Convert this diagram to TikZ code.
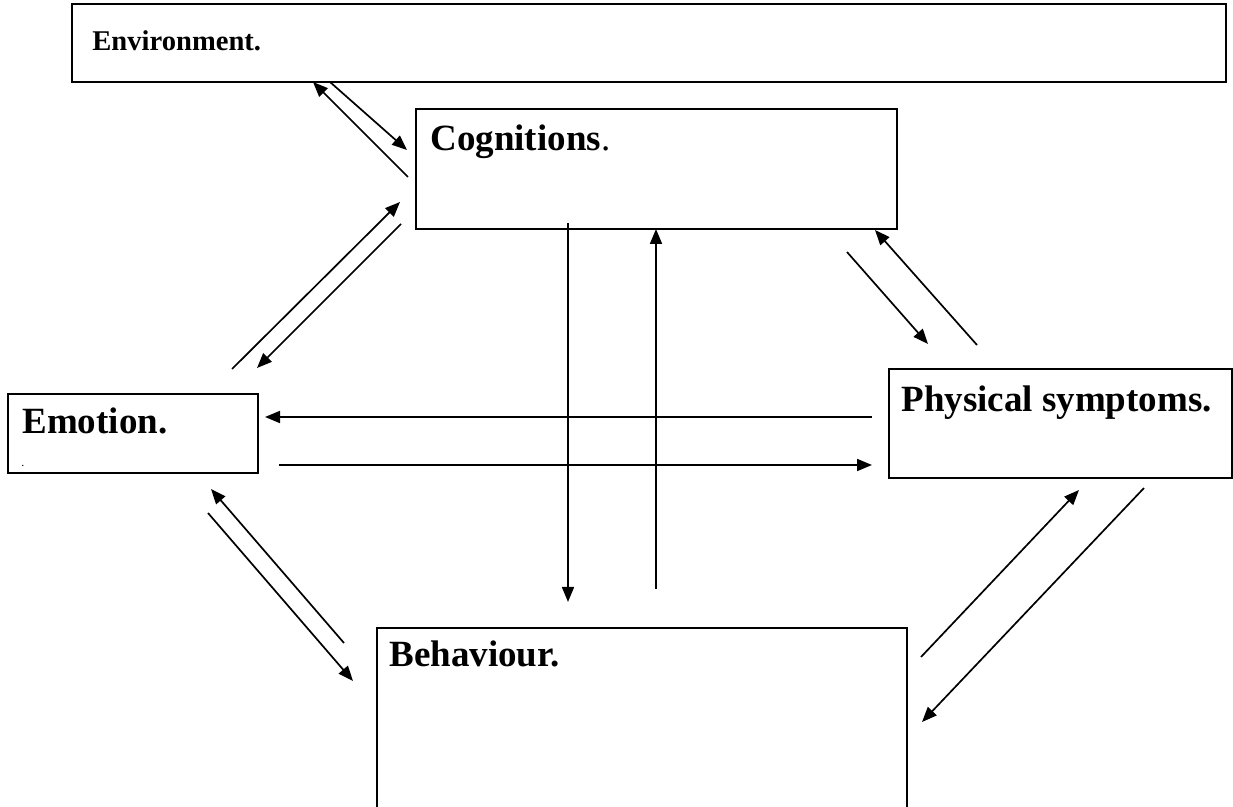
\documentclass[tikz,border=0pt]{standalone}
\usepackage{fontspec}
\setmainfont{Liberation Serif}
\usetikzlibrary{arrows.meta, positioning}

\begin{document}
\begin{tikzpicture}[x=0.5pt, y=-0.5pt]
    \tikzstyle{box} = [rectangle, draw, line width=0.9pt, anchor=north west, inner sep=0pt]
    \tikzstyle{head} = [anchor=base west, inner sep=0pt, font=\fontsize{18.5}{22}\selectfont\bfseries]
    \tikzstyle{flow} = [-{Triangle[length=7.5pt, width=6pt]}, line width=0.85pt]

    \useasboundingbox (0,0) rectangle (1233,807);
    \clip (0,0) rectangle (1233,807);

    % boxes
    \node (env)  [box, minimum width=577pt, minimum height=39pt]   at (71,3)    {};
    \node (cog)  [box, minimum width=240.5pt, minimum height=60pt] at (415,108) {};
    \node (emo)  [box, minimum width=125pt, minimum height=39.5pt] at (7,393)   {};
    \node (phys) [box, minimum width=171.5pt, minimum height=54.5pt] at (888,368) {};
    \node (beh)  [box, minimum width=265pt, minimum height=110pt]  at (376,627) {};

    % titles
    \node (envtxt)  [head, font=\fontsize{14.3}{17}\selectfont\bfseries] at (92,51) {Environment.};
    \node (cogtxt)  [head] at (430,151) {Cognitions\textmd{.}};
    \node (emotxt)  [head] at (22,434)  {Emotion.};
    \node (emodot)  [anchor=base west, inner sep=0pt, font=\fontsize{6}{7}\selectfont] at (21,467) {.};
    \node (phystxt) [head] at (901,412) {Physical symptoms.};
    \node (behtxt)  [head] at (389,667) {Behaviour.};

    % arrow ends
    \coordinate (ec1) at (408,177); \coordinate (ec2) at (313,82);
    \coordinate (ec3) at (330,82);  \coordinate (ec4) at (407,150);
    \coordinate (ce1) at (232,369); \coordinate (ce2) at (400,202);
    \coordinate (ce3) at (401,224); \coordinate (ce4) at (257,368);
    \coordinate (cp1) at (847,252); \coordinate (cp2) at (928,344);
    \coordinate (cp3) at (977,345); \coordinate (cp4) at (875,230);
    \coordinate (ep1) at (872,417); \coordinate (ep2) at (265,417);
    \coordinate (ep3) at (279,465); \coordinate (ep4) at (872,465);
    \coordinate (cb1) at (568,223); \coordinate (cb2) at (568,602);
    \coordinate (cb3) at (656,589); \coordinate (cb4) at (656,229);
    \coordinate (eb1) at (344,643); \coordinate (eb2) at (211,489);
    \coordinate (eb3) at (208,513); \coordinate (eb4) at (353,681);
    \coordinate (pb1) at (921,657); \coordinate (pb2) at (1079,490);
    \coordinate (pb3) at (1144,488); \coordinate (pb4) at (922,722);

    \draw [flow] (ec1) -- (ec2);
    \draw [flow] (ec3) -- (ec4);
    \draw [flow] (ce1) -- (ce2);
    \draw [flow] (ce3) -- (ce4);
    \draw [flow] (cp1) -- (cp2);
    \draw [flow] (cp3) -- (cp4);
    \draw [flow] (ep1) -- (ep2);
    \draw [flow] (ep3) -- (ep4);
    \draw [flow] (cb1) -- (cb2);
    \draw [flow] (cb3) -- (cb4);
    \draw [flow] (eb1) -- (eb2);
    \draw [flow] (eb3) -- (eb4);
    \draw [flow] (pb1) -- (pb2);
    \draw [flow] (pb3) -- (pb4);
\end{tikzpicture}
\end{document}
